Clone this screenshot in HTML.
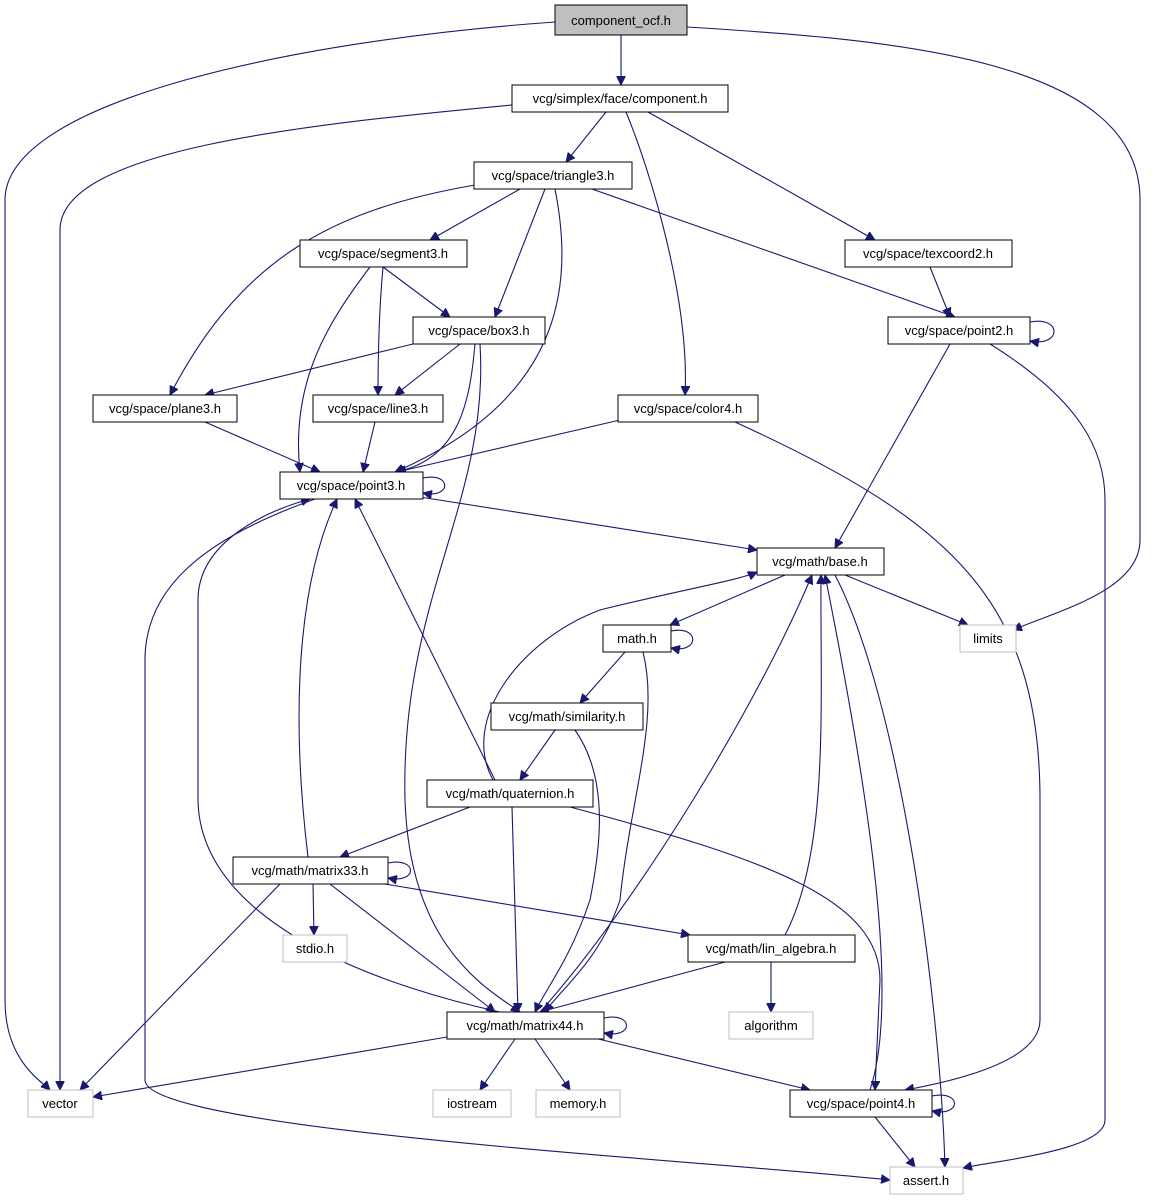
<!DOCTYPE html>
<html><head><meta charset="utf-8"><style>
html,body{margin:0;padding:0;background:#fff;}
svg{display:block;}
text{font-family:"Liberation Sans","DejaVu Sans",sans-serif;font-size:13px;fill:#000;}
.n{fill:#fff;stroke:#000;stroke-width:1;}
.g{fill:#fff;stroke:#bfbfbf;stroke-width:1;}
.e{fill:none;stroke:#191970;stroke-width:1.1;}
</style></head><body>
<svg width="1160" height="1200" viewBox="0 0 1160 1200" xmlns="http://www.w3.org/2000/svg">
<defs><marker id="a" viewBox="0 0 10 10" refX="10" refY="5" markerWidth="9" markerHeight="9" markerUnits="userSpaceOnUse" orient="auto"><path d="M0,0 L10,5 L0,10 z" fill="#191970" stroke="#191970"/></marker></defs>
<g class="e" marker-end="url(#a)">
<path d="M621,35 L621,85"/>
<path d="M555,22 C300,40 5,100 5,200 L5,1000 C5,1060 40,1080 50,1090"/>
<path d="M687,27 C900,40 1140,60 1140,200 L1140,540 C1140,590 1060,610 1013,630"/>
<path d="M606,112 L566,162"/>
<path d="M512,105 C300,125 60,150 60,230 L60,1090"/>
<path d="M626,112 C650,170 690,300 685,395"/>
<path d="M648,112 L875,240"/>
<path d="M520,189 L430,240"/>
<path d="M545,189 L495,317"/>
<path d="M475,185 C330,210 240,260 170,395"/>
<path d="M555,189 C575,290 560,400 395,472"/>
<path d="M592,189 L955,317"/>
<path d="M930,267 L950,317"/>
<path d="M1030,322 C1062,316 1062,347 1030,341"/>
<path d="M950,344 L835,548"/>
<path d="M990,344 C1080,400 1105,450 1105,500 L1105,1120 C1105,1150 1000,1160 963,1168"/>
<path d="M383,267 L450,317"/>
<path d="M383,267 C380,300 378,350 378,395"/>
<path d="M370,267 C330,320 290,380 300,472"/>
<path d="M413,344 L205,395"/>
<path d="M460,344 L395,395"/>
<path d="M475,344 C470,400 460,460 395,472"/>
<path d="M480,344 C490,500 400,600 405,800 C410,950 490,990 520,1012"/>
<path d="M205,422 L320,472"/>
<path d="M375,422 L363,472"/>
<path d="M620,420 L397,472"/>
<path d="M735,422 C950,520 1040,600 1040,800 L1040,1020 C1040,1060 960,1080 905,1090"/>
<path d="M423,478 C452,472 452,499 423,493"/>
<path d="M420,497 L757,550"/>
<path d="M315,499 C200,540 145,590 145,660 L145,1080 C145,1130 700,1160 890,1180"/>
<path d="M845,575 L968,625"/>
<path d="M785,575 L670,625"/>
<path d="M835,575 C900,700 940,1000 945,1167"/>
<path d="M671,631 C700,625 700,654 671,648"/>
<path d="M625,652 L580,703"/>
<path d="M643,652 C660,720 630,800 620,900 C600,960 560,990 545,1012"/>
<path d="M555,730 L520,780"/>
<path d="M575,730 C610,780 600,850 590,900 C570,960 545,990 535,1012"/>
<path d="M493,780 C460,720 520,640 600,610 C680,590 740,580 757,572"/>
<path d="M495,780 L355,499"/>
<path d="M470,807 L340,857"/>
<path d="M512,807 L518,1012"/>
<path d="M570,807 C770,860 880,900 880,980 L875,1090"/>
<path d="M388,863 C418,857 418,884 388,878"/>
<path d="M308,857 C295,750 290,600 337,499"/>
<path d="M313,884 L314,935"/>
<path d="M385,884 L690,935"/>
<path d="M330,884 L495,1012"/>
<path d="M280,884 L80,1090"/>
<path d="M785,935 C830,850 820,700 821,575"/>
<path d="M771,962 L771,1012"/>
<path d="M725,962 L540,1012"/>
<path d="M604,1018 C634,1012 634,1039 604,1033"/>
<path d="M500,1012 C400,990 200,930 198,800 L198,600 C198,540 270,510 310,499"/>
<path d="M540,1012 C640,900 760,700 812,575"/>
<path d="M447,1037 L93,1097"/>
<path d="M515,1039 L480,1090"/>
<path d="M535,1039 L570,1090"/>
<path d="M590,1037 L810,1090"/>
<path d="M932,1096 C962,1090 962,1117 932,1111"/>
<path d="M870,1090 C900,1000 870,800 825,575"/>
<path d="M875,1117 L915,1167"/>
</g>
<g text-anchor="middle">
<rect x="555" y="5" width="132" height="30" fill="#bfbfbf" stroke="#000"/><text x="621" y="25">component_ocf.h</text>
<rect class="n" x="512" y="85" width="216" height="27"/><text x="620" y="103">vcg/simplex/face/component.h</text>
<rect class="n" x="474" y="162" width="158" height="27"/><text x="553" y="180">vcg/space/triangle3.h</text>
<rect class="n" x="300" y="240" width="167" height="27"/><text x="383" y="258">vcg/space/segment3.h</text>
<rect class="n" x="845" y="240" width="167" height="27"/><text x="928" y="258">vcg/space/texcoord2.h</text>
<rect class="n" x="413" y="317" width="132" height="27"/><text x="479" y="335">vcg/space/box3.h</text>
<rect class="n" x="888" y="317" width="142" height="27"/><text x="959" y="335">vcg/space/point2.h</text>
<rect class="n" x="93" y="395" width="144" height="27"/><text x="165" y="413">vcg/space/plane3.h</text>
<rect class="n" x="313" y="395" width="130" height="27"/><text x="378" y="413">vcg/space/line3.h</text>
<rect class="n" x="618" y="395" width="140" height="27"/><text x="688" y="413">vcg/space/color4.h</text>
<rect class="n" x="280" y="472" width="143" height="27"/><text x="351" y="490">vcg/space/point3.h</text>
<rect class="n" x="757" y="548" width="127" height="27"/><text x="820" y="566">vcg/math/base.h</text>
<rect class="g" x="960" y="625" width="56" height="27"/><text x="988" y="643">limits</text>
<rect class="n" x="603" y="625" width="68" height="27"/><text x="637" y="643">math.h</text>
<rect class="n" x="491" y="703" width="152" height="27"/><text x="567" y="721">vcg/math/similarity.h</text>
<rect class="n" x="427" y="780" width="166" height="27"/><text x="510" y="798">vcg/math/quaternion.h</text>
<rect class="n" x="233" y="857" width="155" height="27"/><text x="310" y="875">vcg/math/matrix33.h</text>
<rect class="g" x="283" y="935" width="64" height="27"/><text x="315" y="953">stdio.h</text>
<rect class="n" x="688" y="935" width="167" height="27"/><text x="771" y="953">vcg/math/lin_algebra.h</text>
<rect class="g" x="729" y="1012" width="84" height="27"/><text x="771" y="1030">algorithm</text>
<rect class="n" x="447" y="1012" width="157" height="27"/><text x="525" y="1030">vcg/math/matrix44.h</text>
<rect class="g" x="28" y="1090" width="65" height="27"/><text x="60" y="1108">vector</text>
<rect class="g" x="433" y="1090" width="78" height="27"/><text x="472" y="1108">iostream</text>
<rect class="g" x="536" y="1090" width="84" height="27"/><text x="578" y="1108">memory.h</text>
<rect class="n" x="790" y="1090" width="142" height="27"/><text x="861" y="1108">vcg/space/point4.h</text>
<rect class="g" x="890" y="1167" width="73" height="27"/><text x="926" y="1185">assert.h</text>
</g>
</svg>
</body></html>
